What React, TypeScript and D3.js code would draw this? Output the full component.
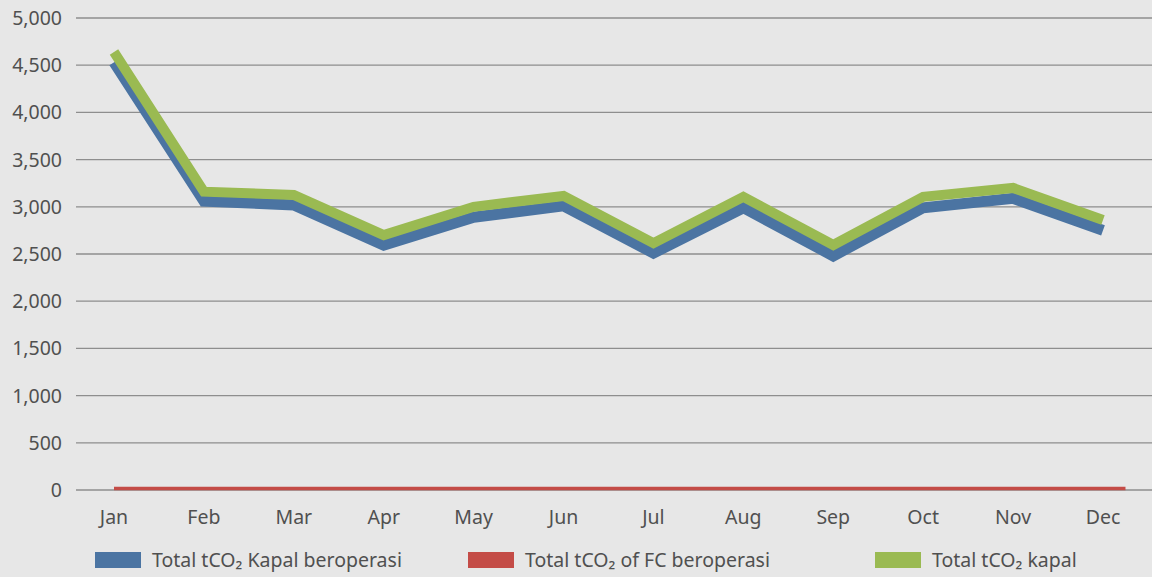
import React, { useRef, useEffect } from "react";
import * as d3 from "d3";

// monthly emission values
const months = ["Jan", "Feb", "Mar", "Apr", "May", "Jun", "Jul", "Aug", "Sep", "Oct", "Nov", "Dec"];
const kapalBeroperasi = [4530, 3060, 3020, 2595, 2890, 3010, 2510, 2990, 2480, 2990, 3090, 2750];
const fcBeroperasi = [15, 15, 15, 15, 15, 15, 15, 15, 15, 15, 15, 15];
const kapalTotal = [4640, 3160, 3125, 2700, 3000, 3115, 2615, 3105, 2595, 3105, 3200, 2860];
const yTicks = [0, 500, 1000, 1500, 2000, 2500, 3000, 3500, 4000, 4500, 5000];

const seriesNames = ["Total tCO\u2082 Kapal beroperasi", "Total tCO\u2082 of FC beroperasi", "Total tCO\u2082 kapal"];
const colors = ["#4b74a2", "#c44c47", "#9aba52"];

const App = () => {
    const canvas = useRef<SVGSVGElement>(null);
    const width = 1152;
    const height = 577;

    useEffect(() => {
        const svg = d3.select(canvas.current);
        svg.selectAll("*").remove();

        svg.append("rect").attr("width", width).attr("height", height).attr("fill", "#e7e7e7");

        const xScale = d3.scalePoint<string>().domain(months).range([114, 1103]);
        const yScale = d3.scaleLinear().domain([0, 5000]).range([490, 18]);

        const font = "'Noto Sans', 'Open Sans', sans-serif";
        const textColor = "#505050";
        const fontSize = "19.5px";

        // gridlines
        svg.append("g").selectAll("line")
            .data(yTicks)
            .enter().append("line")
            .attr("x1", 76).attr("x2", width)
            .attr("y1", (d: number) => yScale(d)).attr("y2", (d: number) => yScale(d))
            .attr("stroke", "#8e8e8e").attr("stroke-width", 1.3);

        // y labels
        svg.append("g").selectAll("text")
            .data(yTicks)
            .enter().append("text")
            .attr("x", 62).attr("y", (d: number) => yScale(d) + 7)
            .attr("text-anchor", "end")
            .style("font-family", font).style("font-size", fontSize).attr("fill", textColor)
            .text((d: number) => d3.format(",")(d));

        // x labels
        svg.append("g").selectAll("text")
            .data(months)
            .enter().append("text")
            .attr("x", (d: string) => xScale(d) as number).attr("y", 524)
            .attr("text-anchor", "middle")
            .style("font-family", font).style("font-size", fontSize).attr("fill", textColor)
            .text((d: string) => d);

        const line = d3.line<number>()
            .x((d, i) => xScale(months[i]) as number)
            .y((d) => yScale(d));

        // the FC series runs a little past the last month in the original
        const step = xScale.step();
        const redLine = d3.line<number>()
            .x((d, i) => (xScale(months[i]) as number) + (i === months.length - 1 ? step / 4 : 0))
            .y((d) => yScale(d));

        const allSeries = [kapalBeroperasi, fcBeroperasi, kapalTotal];
        const widths = [11, 3.5, 10];
        allSeries.forEach((s, i) => {
            svg.append("path")
                .datum(s)
                .attr("d", i === 1 ? redLine : line)
                .attr("fill", "none")
                .attr("stroke", colors[i])
                .attr("stroke-width", widths[i])
                .attr("stroke-linejoin", "miter");
        });

        // legend
        const legendX = [95, 468, 875];
        const lg = svg.append("g");
        seriesNames.forEach((name, i) => {
            lg.append("rect")
                .attr("x", legendX[i]).attr("y", 552)
                .attr("width", 46).attr("height", 16)
                .attr("fill", colors[i]);
            lg.append("text")
                .attr("x", legendX[i] + 57).attr("y", 567)
                .style("font-family", font).style("font-size", fontSize).attr("fill", textColor)
                .text(name);
        });
    });

    return (
        <svg ref={canvas} width={width} height={height}
            style={{ position: "absolute", left: 0, top: 0, display: "block" }}></svg>
    );
}

export default App;
